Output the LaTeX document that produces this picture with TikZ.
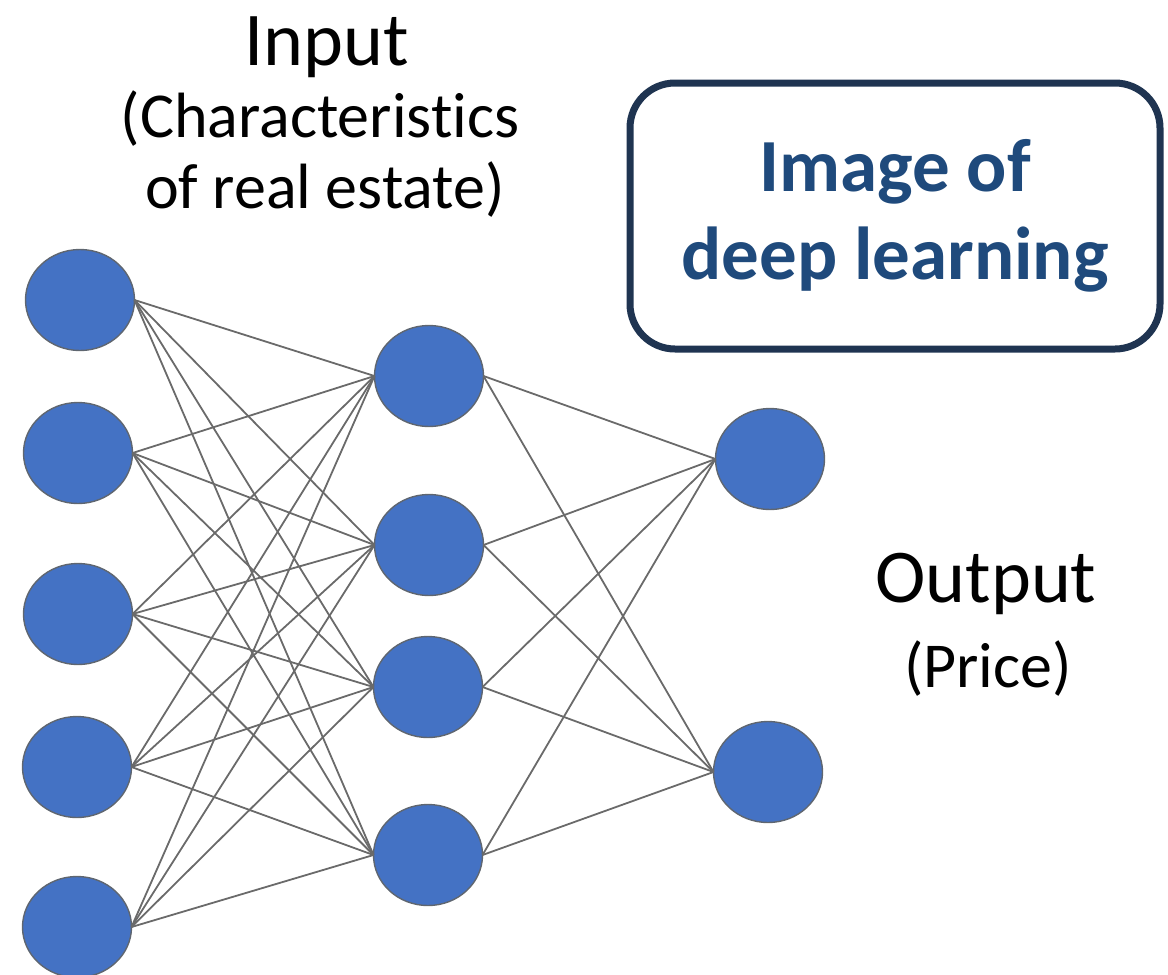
\documentclass[tikz,border=0pt]{standalone}
\usepackage{fontspec}
\setmainfont{Carlito}[RawFeature=-liga]
\usetikzlibrary{shapes.geometric}
\definecolor{nblue}{HTML}{4472C4}
\definecolor{nedge}{HTML}{5F6670}
\definecolor{lgrey}{HTML}{6A6A6A}
\definecolor{boxc}{HTML}{1F3451}
\definecolor{boxtext}{HTML}{1F4A7C}
\begin{document}
\begin{tikzpicture}[x=1pt,y=-1pt,
  neuron/.style={ellipse, fill=nblue, draw=nedge, line width=1.4pt,
    minimum width=109pt, minimum height=101pt, inner sep=0pt, outer sep=0pt},
  link/.style={draw=lgrey, line width=1.8pt},
  bigtext/.style={anchor=base, inner sep=0pt, font=\fontsize{76}{88}\selectfont},
  smalltext/.style={anchor=base, inner sep=0pt, font=\fontsize{64}{75}\selectfont},
  titlebox/.style={draw=boxc, line width=7pt, rounded corners=45pt,
    minimum width=530pt, minimum height=266pt, align=center, text=boxtext,
    font=\fontsize{75}{88}\selectfont\bfseries}]
\useasboundingbox (0,0) rectangle (1168,975);
% input layer
\node[neuron] (i1) at (80,300) {};
\node[neuron] (i2) at (78,453) {};
\node[neuron] (i3) at (78,614) {};
\node[neuron] (i4) at (77,767) {};
\node[neuron] (i5) at (77,927) {};
% hidden layer
\node[neuron] (h1) at (429,376) {};
\node[neuron] (h2) at (429,545) {};
\node[neuron] (h3) at (428,687) {};
\node[neuron] (h4) at (428,855) {};
% output layer
\node[neuron] (o1) at (770,459) {};
\node[neuron] (o2) at (768,772) {};
% connections
\foreach \a in {1,...,5}{
  \foreach \b in {1,...,4}{
    \draw[link] (i\a.east) -- (h\b.west);
  }
}
\foreach \b in {1,...,4}{
  \foreach \c in {1,2}{
    \draw[link] (h\b.east) -- (o\c.west);
  }
}
% labels
\node[bigtext] (inlbl) at (327,65) {Input};
\node[smalltext] (inc1) at (320,137) {(Characteristics};
\node[smalltext] (inc2) at (325,208) {of real estate)};
\node[bigtext] (outlbl) at (986,602) {Output};
\node[smalltext] (outc) at (988,687) {(Price)};
% title box
\node[titlebox] (title) at (895,216) {Image of\\deep learning};
\end{tikzpicture}
\end{document}
